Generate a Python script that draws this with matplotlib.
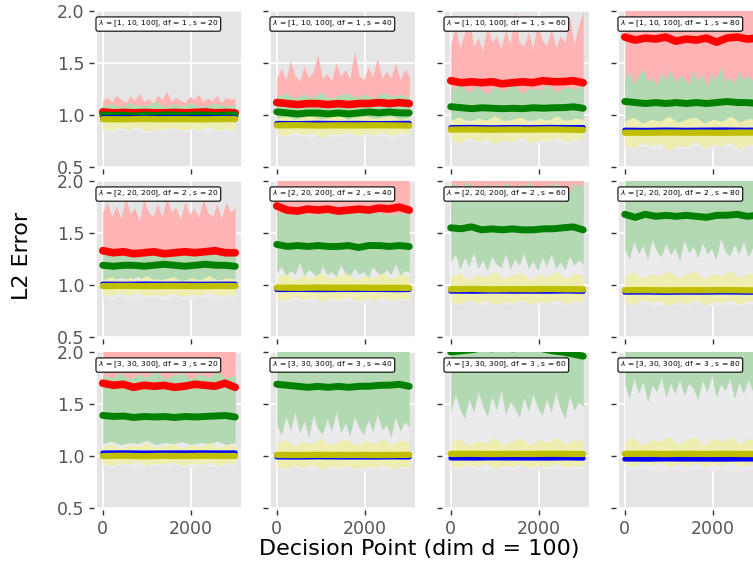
import numpy as np
import matplotlib
matplotlib.use('Agg')
import matplotlib.pyplot as plt
from matplotlib.ticker import MultipleLocator

W, H, DPI = 753, 572, 100

# panel settings
lambdas = ['[1, 10, 100]', '[2, 20, 200]', '[3, 30, 300]']
dfs = [1, 2, 3]
s_values = [20, 40, 60, 80]
n_decisions = 3000

# mean L2 error curves (rows: lambda/df, cols: s)
red_mean = [
    [[1.03, 1.02, 1.025, 1.02, 1.025, 1.02, 1.02, 1.025, 1.02, 1.025, 1.03, 1.02, 1.025, 1.02],
     [1.12, 1.11, 1.10, 1.11, 1.11, 1.10, 1.11, 1.10, 1.11, 1.11, 1.12, 1.11, 1.12, 1.11],
     [1.33, 1.31, 1.32, 1.31, 1.32, 1.30, 1.31, 1.32, 1.31, 1.33, 1.32, 1.32, 1.33, 1.31],
     [1.75, 1.72, 1.74, 1.73, 1.75, 1.71, 1.73, 1.72, 1.74, 1.70, 1.74, 1.75, 1.73, 1.74]],
    [[1.33, 1.31, 1.32, 1.30, 1.31, 1.32, 1.30, 1.31, 1.32, 1.31, 1.32, 1.33, 1.31, 1.31],
     [1.76, 1.72, 1.71, 1.73, 1.72, 1.73, 1.71, 1.72, 1.73, 1.72, 1.74, 1.73, 1.75, 1.72],
     [2.20, 2.20],
     [2.40, 2.40]],
    [[1.70, 1.68, 1.69, 1.66, 1.68, 1.67, 1.68, 1.66, 1.67, 1.69, 1.68, 1.67, 1.70, 1.66],
     [2.20, 2.20],
     [2.50, 2.50],
     [2.70, 2.70]],
]
green_mean = [
    [[1.00, 0.995, 1.00, 0.99, 1.00, 0.995, 1.00, 1.00, 0.995, 1.00, 1.00, 0.995, 1.00, 1.00],
     [1.03, 1.02, 1.01, 1.02, 1.02, 1.01, 1.02, 1.01, 1.02, 1.03, 1.02, 1.03, 1.02, 1.02],
     [1.08, 1.07, 1.06, 1.07, 1.065, 1.06, 1.065, 1.06, 1.07, 1.065, 1.07, 1.07, 1.08, 1.065],
     [1.13, 1.12, 1.11, 1.12, 1.11, 1.12, 1.11, 1.12, 1.11, 1.12, 1.13, 1.12, 1.12, 1.11]],
    [[1.19, 1.18, 1.19, 1.19, 1.18, 1.19, 1.20, 1.19, 1.18, 1.19, 1.20, 1.19, 1.19, 1.18],
     [1.39, 1.37, 1.38, 1.37, 1.38, 1.37, 1.37, 1.38, 1.36, 1.38, 1.38, 1.37, 1.38, 1.37],
     [1.55, 1.54, 1.56, 1.53, 1.54, 1.53, 1.54, 1.53, 1.53, 1.54, 1.54, 1.55, 1.56, 1.53],
     [1.68, 1.65, 1.68, 1.66, 1.67, 1.66, 1.67, 1.66, 1.65, 1.67, 1.67, 1.68, 1.66, 1.67]],
    [[1.39, 1.38, 1.385, 1.37, 1.38, 1.375, 1.38, 1.37, 1.38, 1.375, 1.38, 1.385, 1.39, 1.375],
     [1.69, 1.68, 1.67, 1.66, 1.67, 1.66, 1.67, 1.66, 1.67, 1.67, 1.68, 1.68, 1.69, 1.67],
     [2.00, 2.01, 2.02, 2.04, 2.03, 2.05, 2.03, 2.04, 2.05, 2.03, 2.01, 2.00, 1.98, 1.96],
     [2.20, 2.20]],
]
blue_mean = [
    [[0.975, 0.978, 0.974, 0.977, 0.975, 0.978, 0.975, 0.976],
     [0.920, 0.918, 0.922, 0.919, 0.921, 0.918, 0.920, 0.921],
     [0.880, 0.882, 0.878, 0.881, 0.879, 0.882, 0.880, 0.881],
     [0.855, 0.853, 0.857, 0.854, 0.856, 0.858, 0.855, 0.856]],
    [[1.010, 1.008, 1.011, 1.009, 1.010, 1.008, 1.010, 1.009],
     [0.955, 0.957, 0.954, 0.956, 0.955, 0.957, 0.954, 0.955],
     [0.940, 0.938, 0.941, 0.939, 0.940, 0.938, 0.942, 0.938],
     [0.930, 0.932, 0.928, 0.931, 0.929, 0.932, 0.930, 0.929]],
    [[1.030, 1.032, 1.029, 1.031, 1.030, 1.032, 1.030, 1.031],
     [0.990, 0.988, 0.991, 0.989, 0.990, 0.988, 0.991, 0.989],
     [0.980, 0.978, 0.981, 0.979, 0.980, 0.978, 0.981, 0.978],
     [0.970, 0.968, 0.971, 0.969, 0.970, 0.968, 0.971, 0.969]],
]
yellow_mean = [
    [[0.960, 0.958, 0.962, 0.959, 0.961, 0.958, 0.960, 0.962],
     [0.900, 0.903, 0.898, 0.901, 0.899, 0.902, 0.900, 0.898],
     [0.860, 0.862, 0.858, 0.861, 0.859, 0.862, 0.860, 0.856],
     [0.830, 0.828, 0.832, 0.829, 0.831, 0.828, 0.832, 0.830]],
    [[0.990, 0.992, 0.989, 0.991, 0.990, 0.988, 0.991, 0.990],
     [0.975, 0.972, 0.976, 0.973, 0.975, 0.972, 0.974, 0.971],
     [0.960, 0.963, 0.958, 0.961, 0.959, 0.962, 0.960, 0.958],
     [0.950, 0.952, 0.948, 0.951, 0.949, 0.952, 0.950, 0.948]],
    [[1.000, 1.003, 0.998, 1.002, 0.999, 1.002, 1.000, 1.001],
     [1.010, 1.008, 1.012, 1.009, 1.011, 1.008, 1.010, 1.011],
     [1.020, 1.022, 1.018, 1.021, 1.019, 1.022, 1.020, 1.019],
     [1.020, 1.023, 1.018, 1.022, 1.019, 1.021, 1.020, 1.018]],
]

# spread bands (upper / lower envelope)
red_hi = [
    [[1.14, 1.17, 1.13, 1.19, 1.15, 1.12, 1.18, 1.14, 1.21, 1.13, 1.16, 1.12, 1.19, 1.15, 1.23,
      1.13, 1.17, 1.14, 1.12, 1.18, 1.15, 1.20, 1.13, 1.16, 1.14, 1.19, 1.12, 1.17, 1.15, 1.16],
     [1.36, 1.45, 1.34, 1.52, 1.38, 1.33, 1.47, 1.36, 1.42, 1.58, 1.35, 1.40, 1.33, 1.50, 1.37,
      1.44, 1.35, 1.62, 1.38, 1.34, 1.46, 1.37, 1.55, 1.35, 1.42, 1.36, 1.50, 1.34, 1.44, 1.38],
     [1.68, 1.85, 1.65, 1.78, 1.95, 1.66, 1.74, 1.62, 1.88, 1.70, 1.76, 1.64, 1.82, 1.68, 2.00,
      1.70, 1.66, 1.80, 1.63, 1.90, 1.72, 1.67, 1.84, 1.65, 1.76, 1.70, 1.95, 1.68, 1.86, 2.00],
     [2.10, 2.10]],
    [[1.70, 1.80, 1.66, 1.76, 1.64, 1.84, 1.69, 1.74, 1.62, 1.82, 1.70, 1.66, 1.78, 1.65, 1.86,
      1.70, 1.75, 1.63, 1.80, 1.68, 1.74, 1.65, 1.83, 1.70, 1.66, 1.78, 1.64, 1.80, 1.70, 1.74],
     [2.10, 2.10], [2.10, 2.10], [2.10, 2.10]],
    [[2.10, 2.10], [2.10, 2.10], [2.10, 2.10], [2.10, 2.10]],
]
red_lo = [
    [[0.97, 0.97], [1.00, 1.00], [1.10, 1.10], [1.20, 1.20]],
    [[1.15, 1.15], [1.40, 1.40], [1.60, 1.60], [2.05, 2.05]],
    [[1.40, 1.40], [2.05, 2.05], [2.05, 2.05], [2.05, 2.05]],
]
green_hi = [
    [[1.09, 1.11, 1.08, 1.12, 1.09, 1.10, 1.13, 1.08, 1.11, 1.09, 1.12, 1.08, 1.10, 1.11, 1.09, 1.10],
     [1.18, 1.21, 1.16, 1.20, 1.17, 1.22, 1.16, 1.19, 1.21, 1.17, 1.20, 1.16, 1.22, 1.18, 1.20, 1.17],
     [1.24, 1.30, 1.22, 1.28, 1.20, 1.27, 1.23, 1.31, 1.21, 1.26, 1.24, 1.29, 1.22, 1.27, 1.25, 1.28],
     [1.35, 1.42, 1.30, 1.38, 1.45, 1.32, 1.37, 1.29, 1.41, 1.34, 1.44, 1.31, 1.38, 1.35, 1.30,
      1.43, 1.33, 1.39, 1.28, 1.40, 1.35, 1.46, 1.32, 1.37, 1.30, 1.42, 1.34, 1.38, 1.33, 1.40]],
    [[1.30, 1.31, 1.29, 1.31, 1.30, 1.29, 1.31, 1.30],
     [1.69, 1.70, 1.68, 1.70, 1.69, 1.70, 1.68, 1.69],
     [1.95, 1.99, 1.90, 1.97, 2.00, 1.86, 1.96, 1.93, 1.99, 1.82, 1.97, 1.92, 2.00, 1.94, 1.88,
      1.98, 1.93, 2.00, 1.90, 1.96, 1.85, 1.98, 1.94, 2.00, 1.91, 1.97, 1.88, 1.99, 1.95, 1.97],
     [2.10, 2.10]],
    [[1.78, 1.75, 1.80, 1.74, 1.79, 1.76, 1.82, 1.75, 1.78, 1.80, 1.74, 1.79, 1.76, 1.81, 1.75, 1.78],
     [2.10, 2.10], [2.10, 2.10], [2.10, 2.10]],
]
green_lo = [
    [[0.92, 0.92], [0.90, 0.90], [0.95, 0.95], [0.92, 0.92]],
    [[1.06, 1.04, 1.07, 1.05, 1.08, 1.04, 1.06, 1.05, 1.07, 1.04, 1.06, 1.05, 1.08, 1.05, 1.06, 1.05],
     [1.12, 1.18, 1.08, 1.14, 1.10, 1.22, 1.09, 1.15, 1.11, 1.07, 1.19, 1.10, 1.13, 1.08, 1.20,
      1.11, 1.09, 1.16, 1.10, 1.13, 1.07, 1.18, 1.12, 1.09, 1.15, 1.10, 1.21, 1.09, 1.14, 1.12],
     [1.22, 1.30, 1.15, 1.26, 1.18, 1.32, 1.16, 1.24, 1.14, 1.28, 1.20, 1.17, 1.30, 1.15, 1.25,
      1.19, 1.31, 1.16, 1.23, 1.14, 1.27, 1.18, 1.30, 1.16, 1.22, 1.15, 1.28, 1.19, 1.24, 1.20],
     [1.34, 1.25, 1.42, 1.30, 1.38, 1.24, 1.44, 1.32, 1.27, 1.40, 1.29, 1.36, 1.23, 1.43, 1.31,
      1.37, 1.26, 1.41, 1.30, 1.35, 1.24, 1.45, 1.32, 1.28, 1.39, 1.30, 1.42, 1.27, 1.36, 1.33]],
    [[1.12, 1.14, 1.11, 1.13, 1.12, 1.15, 1.11, 1.13, 1.12, 1.14, 1.11, 1.13, 1.12, 1.14, 1.11, 1.13],
     [1.30, 1.20, 1.38, 1.24, 1.42, 1.22, 1.34, 1.18, 1.40, 1.26, 1.21, 1.36, 1.24, 1.43, 1.22,
      1.32, 1.19, 1.38, 1.27, 1.20, 1.35, 1.23, 1.41, 1.25, 1.30, 1.18, 1.37, 1.24, 1.33, 1.28],
     [1.42, 1.60, 1.45, 1.36, 1.55, 1.42, 1.62, 1.48, 1.38, 1.58, 1.44, 1.64, 1.40, 1.52, 1.46,
      1.37, 1.56, 1.43, 1.60, 1.47, 1.39, 1.55, 1.42, 1.62, 1.45, 1.36, 1.58, 1.44, 1.52, 1.48],
     [1.70, 1.55, 1.75, 1.60, 1.72, 1.52, 1.68, 1.62, 1.76, 1.56, 1.70, 1.60, 1.74, 1.58, 1.70,
      1.65, 1.54, 1.73, 1.61, 1.77, 1.57, 1.69, 1.63, 1.75, 1.55, 1.71, 1.60, 1.74, 1.62, 1.68]],
]
blue_hi = [
    [[1.00, 1.00], [0.99, 0.99], [0.97, 0.97], [0.96, 0.96]],
    [[1.08, 1.10, 1.07, 1.09, 1.08, 1.10, 1.07, 1.09],
     [1.15, 1.15], [1.28, 1.28], [1.40, 1.40]],
    [[1.12, 1.14, 1.11, 1.13, 1.12, 1.15, 1.11, 1.13, 1.12, 1.14, 1.11, 1.13, 1.12, 1.14, 1.11, 1.13],
     [1.35, 1.35], [1.55, 1.55], [1.70, 1.70]],
]
blue_lo = [
    [[0.85, 0.83, 0.86, 0.84, 0.85, 0.82, 0.86, 0.84, 0.85, 0.83, 0.86, 0.84, 0.83, 0.85, 0.84, 0.86],
     [0.80, 0.79, 0.81, 0.80, 0.78, 0.81, 0.80, 0.79, 0.81, 0.80, 0.79, 0.81, 0.80, 0.78, 0.80, 0.81],
     [0.74, 0.73, 0.75, 0.74, 0.72, 0.75, 0.74, 0.73, 0.75, 0.74, 0.73, 0.75, 0.74, 0.72, 0.74, 0.75],
     [0.69, 0.67, 0.70, 0.68, 0.66, 0.70, 0.68, 0.67, 0.70, 0.68, 0.67, 0.70, 0.68, 0.66, 0.69, 0.70]],
    [[0.88, 0.86, 0.89, 0.87, 0.86, 0.88, 0.87, 0.86, 0.89, 0.87, 0.86, 0.88, 0.87, 0.86, 0.88, 0.87],
     [0.85, 0.83, 0.86, 0.84, 0.82, 0.85, 0.84, 0.83, 0.86, 0.84, 0.83, 0.85, 0.84, 0.82, 0.85, 0.84],
     [0.83, 0.81, 0.84, 0.82, 0.80, 0.83, 0.82, 0.81, 0.84, 0.82, 0.81, 0.83, 0.82, 0.80, 0.83, 0.82],
     [0.82, 0.80, 0.83, 0.81, 0.79, 0.82, 0.81, 0.80, 0.83, 0.81, 0.80, 0.82, 0.81, 0.79, 0.82, 0.81]],
    [[0.91, 0.89, 0.92, 0.90, 0.89, 0.91, 0.90, 0.89, 0.92, 0.90, 0.89, 0.91, 0.90, 0.89, 0.91, 0.90],
     [0.88, 0.86, 0.89, 0.87, 0.86, 0.88, 0.87, 0.86, 0.89, 0.87, 0.86, 0.88, 0.87, 0.86, 0.88, 0.87],
     [0.88, 0.86, 0.89, 0.87, 0.86, 0.88, 0.87, 0.86, 0.89, 0.87, 0.86, 0.88, 0.87, 0.86, 0.88, 0.87],
     [0.87, 0.85, 0.88, 0.86, 0.85, 0.87, 0.86, 0.85, 0.88, 0.86, 0.85, 0.87, 0.86, 0.85, 0.87, 0.86]],
]
yellow_hi = [
    [[0.99, 1.00, 0.98, 0.99, 1.00, 0.98, 0.99, 1.00, 0.98, 0.99, 1.00, 0.98, 0.99, 1.00, 0.98, 0.99],
     [0.97, 0.99, 0.96, 0.98, 0.99, 0.96, 0.98, 1.00, 0.96, 0.98, 0.99, 0.97, 0.98, 0.99, 0.96, 0.98],
     [0.95, 0.98, 0.93, 0.97, 0.95, 0.99, 0.94, 0.96, 0.98, 0.93, 0.97, 0.95, 0.99, 0.94, 0.97, 0.96],
     [0.94, 0.98, 0.92, 0.96, 0.94, 0.99, 0.93, 0.96, 0.98, 0.92, 0.96, 0.94, 0.99, 0.93, 0.97, 0.95]],
    [[1.05, 1.08, 1.04, 1.07, 1.05, 1.09, 1.04, 1.06, 1.08, 1.04, 1.07, 1.05, 1.09, 1.04, 1.07, 1.06],
     [1.07, 1.11, 1.05, 1.09, 1.07, 1.12, 1.06, 1.09, 1.11, 1.05, 1.09, 1.07, 1.12, 1.06, 1.10, 1.08],
     [1.08, 1.12, 1.05, 1.10, 1.08, 1.13, 1.06, 1.10, 1.12, 1.05, 1.10, 1.08, 1.13, 1.06, 1.11, 1.09],
     [1.09, 1.13, 1.06, 1.11, 1.09, 1.14, 1.07, 1.11, 1.13, 1.06, 1.11, 1.09, 1.14, 1.07, 1.12, 1.10]],
    [[1.09, 1.12, 1.07, 1.11, 1.09, 1.13, 1.08, 1.10, 1.12, 1.07, 1.11, 1.09, 1.13, 1.08, 1.11, 1.10],
     [1.12, 1.16, 1.10, 1.14, 1.12, 1.17, 1.11, 1.14, 1.16, 1.10, 1.15, 1.12, 1.17, 1.11, 1.15, 1.13],
     [1.13, 1.17, 1.10, 1.15, 1.13, 1.18, 1.11, 1.15, 1.17, 1.10, 1.16, 1.13, 1.18, 1.11, 1.16, 1.14],
     [1.14, 1.18, 1.10, 1.16, 1.14, 1.19, 1.11, 1.16, 1.18, 1.10, 1.17, 1.14, 1.19, 1.12, 1.17, 1.15]],
]
yellow_lo = [
    [[0.87, 0.85, 0.88, 0.86, 0.89, 0.84, 0.87, 0.86, 0.88, 0.85, 0.87, 0.86, 0.89, 0.85, 0.87, 0.86],
     [0.82, 0.80, 0.84, 0.81, 0.83, 0.79, 0.82, 0.81, 0.84, 0.80, 0.82, 0.81, 0.84, 0.80, 0.83, 0.82],
     [0.76, 0.73, 0.78, 0.75, 0.77, 0.72, 0.76, 0.74, 0.79, 0.73, 0.76, 0.75, 0.78, 0.74, 0.77, 0.76],
     [0.71, 0.68, 0.74, 0.70, 0.73, 0.66, 0.71, 0.69, 0.75, 0.68, 0.72, 0.70, 0.74, 0.67, 0.72, 0.71]],
    [[0.91, 0.90, 0.92, 0.90, 0.93, 0.89, 0.91, 0.90, 0.92, 0.89, 0.91, 0.90, 0.93, 0.90, 0.91, 0.90],
     [0.87, 0.85, 0.89, 0.86, 0.88, 0.84, 0.87, 0.86, 0.89, 0.85, 0.87, 0.86, 0.88, 0.85, 0.87, 0.86],
     [0.84, 0.82, 0.86, 0.83, 0.85, 0.81, 0.84, 0.83, 0.86, 0.82, 0.84, 0.83, 0.86, 0.82, 0.85, 0.84],
     [0.84, 0.81, 0.86, 0.83, 0.85, 0.80, 0.84, 0.82, 0.86, 0.81, 0.84, 0.83, 0.86, 0.81, 0.85, 0.84]],
    [[0.93, 0.91, 0.94, 0.92, 0.95, 0.91, 0.93, 0.92, 0.94, 0.91, 0.93, 0.92, 0.94, 0.91, 0.93, 0.92],
     [0.90, 0.88, 0.91, 0.89, 0.92, 0.87, 0.90, 0.89, 0.91, 0.88, 0.90, 0.89, 0.92, 0.88, 0.90, 0.89],
     [0.91, 0.89, 0.92, 0.90, 0.93, 0.88, 0.91, 0.90, 0.92, 0.89, 0.91, 0.90, 0.93, 0.89, 0.91, 0.90],
     [0.92, 0.90, 0.93, 0.91, 0.94, 0.89, 0.92, 0.91, 0.93, 0.90, 0.92, 0.91, 0.94, 0.90, 0.92, 0.91]],
]

# mean, lo, hi, line colour, band colour, line width
red = (red_mean, red_lo, red_hi, 'red', '#FFB3B3', 5.5)
green = (green_mean, green_lo, green_hi, 'green', '#B3D9B3', 5.0)
blue = (blue_mean, blue_lo, blue_hi, 'blue', '#EBEBEE', 3.5)
yellow = (yellow_mean, yellow_lo, yellow_hi, '#BFBF00', '#EEEEB0', 4.5)
band_order = [blue, red, green, yellow]
line_order = [red, green, blue, yellow]

x_full = np.arange(n_decisions)


def expand(vals):
    # hand-read points spread evenly over the decision points
    xs = np.linspace(0, n_decisions - 1, len(vals))
    return np.interp(x_full, xs, vals)


fig = plt.figure(figsize=(W / DPI, H / DPI), dpi=DPI)

col_left = [97, 271, 445, 619]
row_top = [11, 181, 352]
ax_w, ax_h = 144, 156
px2pt = 72 / DPI

for r in range(3):
    for c in range(4):
        ax = fig.add_axes([col_left[c] / W, 1 - (row_top[r] + ax_h) / H, ax_w / W, ax_h / H])
        ax.set_facecolor('#E5E5E5')

        for mean, lo, hi, lc, bc, lw in band_order:
            ax.fill_between(x_full, expand(lo[r][c]), expand(hi[r][c]), color=bc, lw=0)
        for mean, lo, hi, lc, bc, lw in line_order:
            ax.plot(x_full, expand(mean[r][c]), color=lc, lw=lw, solid_capstyle='round')

        ax.set_xlim(-130, 3130)
        ax.set_ylim(0.5, 2.0)
        ax.xaxis.set_major_locator(MultipleLocator(2000))
        ax.yaxis.set_major_locator(MultipleLocator(0.5))
        ax.grid(True, color='white', lw=1.2)
        ax.set_axisbelow(True)
        for sp in ax.spines.values():
            sp.set_visible(False)
        ax.spines['left'].set_position(('outward', 3 * px2pt))
        ax.spines['bottom'].set_position(('outward', 2 * px2pt))
        ax.tick_params(direction='out', length=5 * px2pt, width=1, color='#333333',
                       labelcolor='#555555', labelsize=12.5, pad=3.5)
        if c > 0:
            ax.tick_params(labelleft=False)
        if r < 2:
            ax.tick_params(labelbottom=False)

        label = r'$\lambda$ = ' + lambdas[r] + ', df = ' + str(dfs[r]) + ' , s = ' + str(s_values[c])
        ax.text(0.006, 0.95, label, transform=ax.transAxes, ha='left', va='top', fontsize=5.4,
                bbox=dict(boxstyle='round,pad=0.25', fc='white', ec='black', lw=0.8), zorder=5)

fig.text(22 / W, 1 - 256 / H, 'L2 Error', rotation=90, ha='center', va='center', fontsize=16)
fig.text(419 / W, 1 - 549 / H, 'Decision Point (dim d = 100)', ha='center', va='center', fontsize=16)

fig.savefig('out.png', dpi=DPI)
